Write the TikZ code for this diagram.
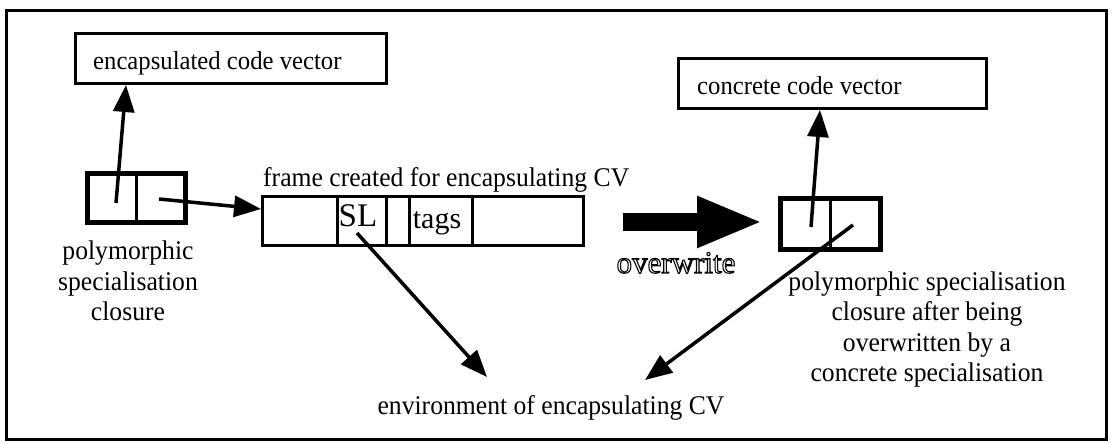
\documentclass[tikz,border=0pt]{standalone}
\usepackage{fontspec}
\setmainfont{Liberation Serif}[FakeStretch=0.95]
\newfontfamily\plainserif{Liberation Serif}
\usetikzlibrary{arrows.meta}
\newcommand{\outlinedtext}[1]{\special{pdf:literal direct 1 Tr 1.1 w}#1\special{pdf:literal direct 0 Tr}}

\begin{document}
\begin{tikzpicture}[x=1pt,y=-1pt,
  box/.style={draw, line width=3pt, inner sep=0pt},
  cell/.style={draw, line width=3pt, inner sep=0pt, minimum height=49pt},
  pairbox/.style={draw, line width=5pt, inner sep=0pt},
  divider/.style={line width=3.5pt},
  ptr/.style={line width=3.5pt, -{Triangle[length=27pt,width=21pt]}},
  bigptr/.style={line width=18pt, -{Triangle[length=66pt,width=47pt]}},
  txt/.style={inner sep=0pt, font=\fontsize{27}{30.5}\selectfont},
  boxtxt/.style={inner sep=0pt, font=\fontsize{26}{30}\selectfont},
]
\useasboundingbox (0,0) rectangle (1112,443);
\draw[line width=3pt] (6,11) rectangle (1106,440);

% code vector boxes
\node[box, minimum width=311pt, minimum height=50pt] (enc) at (231,58.5) {};
\node[boxtxt, anchor=base west] (enct) at (93,70) {encapsulated code vector};
\node[box, minimum width=308pt, minimum height=50pt] (con) at (832.5,83.5) {};
\node[boxtxt, anchor=base west] (cont) at (697,95) {concrete code vector};

% left closure pair
\node[pairbox, minimum width=98pt, minimum height=49pt] (lp) at (136.5,198) {};
\draw[divider] (lp.north) -- (lp.south);
\node[txt, align=center, anchor=base] (lpt) at (128,321) {polymorphic\\specialisation\\closure};

% frame
\node[txt, anchor=base west] (framet) at (263,187) {frame created for encapsulating CV};
\node[cell, minimum width=74.5pt] (c1) at (299.75,221) {};
\node[cell, minimum width=49.5pt] (c2) at (361.75,221) {};
\node[cell, minimum width=22.5pt] (c3) at (397.75,221) {};
\node[cell, minimum width=63.5pt] (c4) at (440.75,221) {};
\node[cell, minimum width=111pt] (c5) at (528,221) {};
\node[inner sep=0pt, font=\plainserif\fontsize{33}{36}\selectfont, anchor=base] (slt) at (358,227) {SL};
\node[inner sep=0pt, font=\plainserif\fontsize{30}{33}\selectfont, anchor=base] (tagst) at (437,229) {tags};

% overwrite arrow
\coordinate (bigA) at (623,222);
\coordinate (bigB) at (763,222);
\draw[bigptr] (bigA) -- (bigB);
\node[inner sep=0pt, font=\plainserif\fontsize{31}{34}\selectfont, anchor=base] (owt) at (676,273) {\outlinedtext{overwrite}};

% right closure pair
\node[pairbox, minimum width=100pt, minimum height=51pt] (rp) at (830.5,224) {};
\draw[divider] (rp.north) -- (rp.south);
\node[txt, align=center, anchor=base] (rpt) at (927,382) {polymorphic specialisation\\closure after being\\overwritten by a\\concrete specialisation};

% environment
\node[txt, anchor=base] (envt) at (551,415) {environment of encapsulating CV};

% pointers
\coordinate (lpA) at (116,203);
\coordinate (encIn) at (126,85);
\coordinate (lpB) at (159,199);
\coordinate (frameIn) at (261,209);
\coordinate (slA) at (357,233);
\coordinate (envInL) at (487,377);
\coordinate (rpA) at (811,227);
\coordinate (conIn) at (820,110);
\coordinate (rpB) at (853,225);
\coordinate (envInR) at (645,380);
\draw[ptr] (lpA) -- (encIn);
\draw[ptr] (lpB) -- (frameIn);
\draw[ptr] (slA) -- (envInL);
\draw[ptr] (rpA) -- (conIn);
\draw[ptr] (rpB) -- (envInR);
\end{tikzpicture}
\end{document}
